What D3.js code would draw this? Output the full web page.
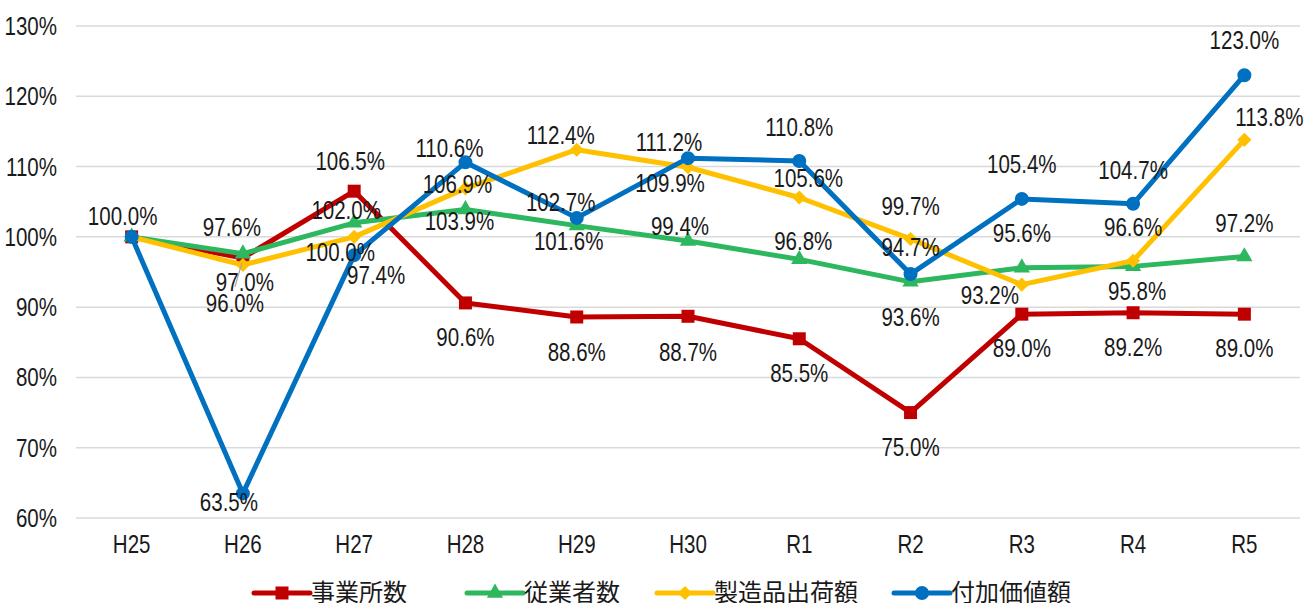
<!DOCTYPE html>
<html>
<head>
<meta charset="utf-8">
<script src="https://cdn.jsdelivr.net/npm/d3@7"></script>
<style>
  body { margin: 0; background: #fff; }
  .num { font-family: 'Liberation Sans', Arial, sans-serif; font-size: 26px; fill: #1a1a1a; }
  .leg { font-family: 'Noto Sans CJK JP', sans-serif; font-size: 24px; fill: #1a1a1a; }
</style>
</head>
<body>
<svg id="chart" width="1308" height="603"></svg>
<script>
let years = ["H25", "H26", "H27", "H28", "H29", "H30", "R1", "R2", "R3", "R4", "R5"]
let yTicks = [60, 70, 80, 90, 100, 110, 120, 130]

let offices   = [100.0, 97.0, 106.5, 90.6, 88.6, 88.7, 85.5, 75.0, 89.0, 89.2, 89.0]
let employees = [100.0, 97.6, 102.0, 103.9, 101.6, 99.4, 96.8, 93.6, 95.6, 95.8, 97.2]
let shipments = [100.0, 96.0, 100.0, 106.9, 112.4, 109.9, 105.6, 99.7, 93.2, 96.6, 113.8]
let addedVal  = [100.0, 63.5, 97.4, 110.6, 102.7, 111.2, 110.8, 94.7, 105.4, 104.7, 123.0]

// where each data label sits relative to its point (null = not shown)
let officeLbl   = [[-9,-21],[2,24],[-4,-30],[0,34],[0,35],[0,36],[0,34],[0,34],[0,34],[0,34],[0,34]]
let employeeLbl = [null,[-11,-27],[-8,-13],[-6,12],[-8,15],[-8,-15],[4,-18],[0,35],[0,-35],[4,25],[0,-34]]
let shipmentLbl = [null,[-8,38],[-14,15],[-8,-4],[-16,-15],[-18,16],[9,-19],[0,-33],[-32,10],[0,-34],[25,-23]]
let addedLbl    = [null,[-14,9],[22,20],[-16,-14],[-16,-16],[-19,-16],[0,-34],[0,-27],[0,-35],[0,-34],[0,-35]]

let series = [
  {name: "事業所数", values: offices, labels: officeLbl, color: "#C00000", marker: "square"},
  {name: "従業者数", values: employees, labels: employeeLbl, color: "#2DB75E", marker: "triangle"},
  {name: "製造品出荷額", values: shipments, labels: shipmentLbl, color: "#FFC000", marker: "diamond"},
  {name: "付加価値額", values: addedVal, labels: addedLbl, color: "#0070C0", marker: "circle"}
]

let svg = d3.select('#chart')

let x = d3.scaleBand()
          .domain(years)
          .range([76, 1300])
let y = d3.scaleLinear()
          .domain([60, 130])
          .range([518, 26])
let cx = (i) => x(years[i]) + x.bandwidth() / 2

// the numbers in the original are narrow, so squeeze them sideways
let squeeze = (px, py) => 'translate(' + px + ',' + py + ') scale(0.79,1)'

let symbolPath = (type) => {
  if (type === "square") return d3.symbol(d3.symbolSquare, 169)()
  if (type === "triangle") return d3.symbol(d3.symbolTriangle, 115)()
  if (type === "diamond") return d3.symbol(d3.symbolSquare, 100)()
  return d3.symbol(d3.symbolCircle, 154)()
}

// gridlines
svg.append('g')
   .selectAll('line')
   .data(yTicks)
   .enter()
   .append('line')
   .attr('x1', 76)
   .attr('x2', 1300)
   .attr('y1', (d) => y(d))
   .attr('y2', (d) => y(d))
   .attr('stroke', '#d9d9d9')
   .attr('stroke-width', 1.5)

// y axis labels
svg.append('g')
   .selectAll('text')
   .data(yTicks)
   .enter()
   .append('text')
   .attr('class', 'num')
   .attr('transform', (d) => squeeze(57, y(d) + 9))
   .attr('text-anchor', 'end')
   .text((d) => d + '%')

// x axis labels
svg.append('g')
   .selectAll('text')
   .data(years)
   .enter()
   .append('text')
   .attr('class', 'num')
   .attr('transform', (d) => squeeze(x(d) + x.bandwidth() / 2, 553))
   .attr('text-anchor', 'middle')
   .text((d) => d)

let line = d3.line()
             .x((d, i) => cx(i))
             .y((d) => y(d))

series.forEach((s) => {
  let g = svg.append('g')
  g.append('path')
   .datum(s.values)
   .attr('d', line)
   .attr('fill', 'none')
   .attr('stroke', s.color)
   .attr('stroke-width', 5)
   .attr('stroke-linejoin', 'round')

  g.selectAll('path.mk')
   .data(s.values)
   .enter()
   .append('path')
   .attr('class', 'mk')
   .attr('d', symbolPath(s.marker))
   .attr('fill', s.color)
   .attr('transform', (d, i) => 'translate(' + cx(i) + ',' + y(d) + ')' + (s.marker === 'diamond' ? ' rotate(45)' : ''))
})

// leader line for the crowded H26 label
let h26x = cx(1) + officeLbl[1][0]
let h26y = y(offices[1]) + officeLbl[1][1]
svg.append('line')
   .attr('x1', h26x - 10)
   .attr('y1', h26y + 5)
   .attr('x2', cx(1) - 1)
   .attr('y2', y(offices[1]) + 5)
   .attr('stroke', '#a6a6a6')
   .attr('stroke-width', 1.2)

// data labels
series.forEach((s) => {
  svg.append('g')
     .selectAll('text')
     .data(s.values.map((v, i) => ({v: v, i: i, off: s.labels[i]})).filter((d) => d.off))
     .enter()
     .append('text')
     .attr('class', 'num')
     .attr('transform', (d) => squeeze(cx(d.i) + d.off[0], y(d.v) + d.off[1] + 9))
     .attr('text-anchor', 'middle')
     .text((d) => d.v.toFixed(1) + '%')
})

// legend
let legendX = [254, 467, 657, 894]
let leg = svg.append('g')
series.forEach((s, i) => {
  let g = leg.append('g').attr('transform', 'translate(' + legendX[i] + ',593)')
  g.append('line')
   .attr('x1', 0)
   .attr('x2', 56)
   .attr('stroke', s.color)
   .attr('stroke-width', 5)
   .attr('stroke-linecap', 'round')
  g.append('path')
   .attr('d', symbolPath(s.marker))
   .attr('fill', s.color)
   .attr('transform', 'translate(28,0)' + (s.marker === 'diamond' ? ' rotate(45)' : ''))
  g.append('text')
   .attr('class', 'leg')
   .attr('x', 57)
   .attr('y', 8)
   .text(s.name)
})
</script>
</body>
</html>
